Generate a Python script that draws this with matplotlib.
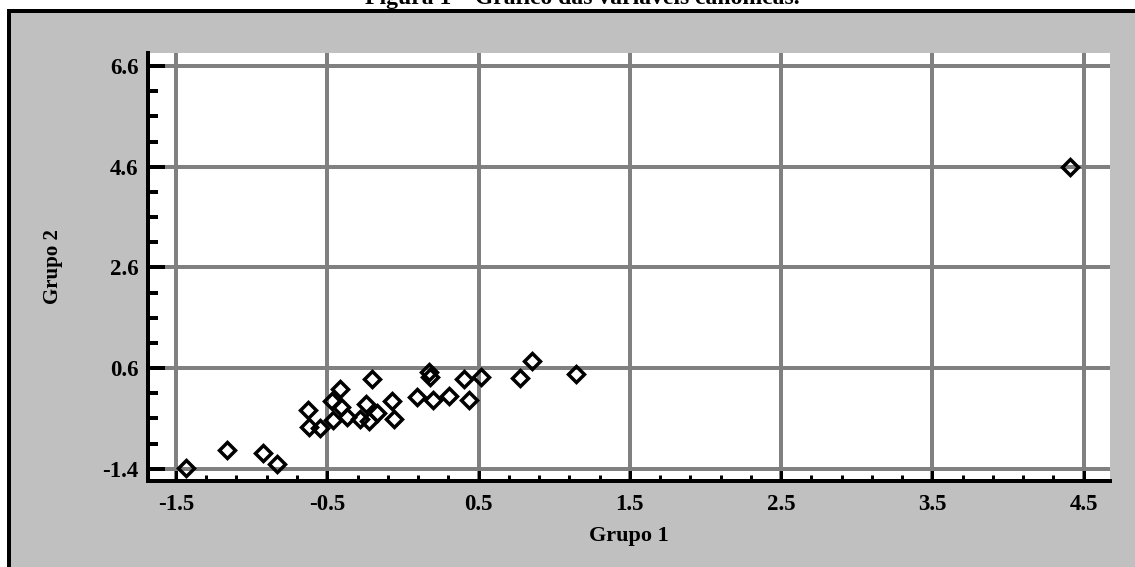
import matplotlib
matplotlib.use("Agg")
import matplotlib.pyplot as plt
from matplotlib.patches import Rectangle
from matplotlib.ticker import FixedLocator, MultipleLocator

# ---------------------------------
# Data
# ---------------------------------
grupo1 = [-1.434, -1.160, -0.924, -0.834, -0.630, -0.620, -0.547, -0.461,
          -0.468, -0.418, -0.408, -0.372, -0.282, -0.243, -0.221, -0.205,
          -0.168, -0.072, -0.062, 0.092, 0.171, 0.181, 0.199, 0.302,
          0.406, 0.434, 0.517, 0.777, 0.854, 1.141, 4.410]
grupo2 = [-1.394, -1.036, -1.082, -1.301, -0.231, -0.569, -0.599, -0.440,
          -0.052, 0.177, -0.175, -0.370, -0.414, -0.122, -0.460, 0.375,
          -0.301, -0.062, -0.410, 0.018, 0.515, 0.425, -0.042, 0.043,
          0.389, -0.042, 0.421, 0.409, 0.733, 0.489, 4.584]

x_ticks = [-1.5, -0.5, 0.5, 1.5, 2.5, 3.5, 4.5]
y_ticks = [-1.4, 0.6, 2.6, 4.6, 6.6]

title = "Figura 1 \u2013 Gráfico das variáveis canônicas."
x_label = "Grupo 1"
y_label = "Grupo 2"

W, H = 1135, 567
DPI = 100
PX = 72.0 / DPI  # one pixel in points

serif = ["Liberation Serif", "DejaVu Serif"]

# ---------------------------------
# Figure and grey panel
# ---------------------------------
fig = plt.figure(figsize=(W / DPI, H / DPI), dpi=DPI, facecolor="white")

panel = Rectangle((8.5 / W, -0.1), 1.2, (H - 10.7) / H + 0.1,
                  transform=fig.transFigure, facecolor="#c0c0c0",
                  edgecolor="black", linewidth=4 * PX, zorder=-5)
fig.patches.append(panel)

fig.text(800 / W, (H - 4) / H, title, ha="right", va="baseline",
         fontsize=17, fontweight="bold", family=serif)

ax = fig.add_axes([148 / W, (H - 480.5) / H, (1110 - 148) / W, (480.5 - 53) / H])
ax.set_facecolor("white")

# ---------------------------------
# Scatter
# ---------------------------------
ax.plot(grupo1, grupo2, linestyle="none", marker="D", markersize=8.6,
        markerfacecolor="none", markeredgecolor="black",
        markeredgewidth=2.5, zorder=3)

ax.set_xlim(-1.685, 4.674)
ax.set_ylim(-1.633, 6.858)

# ---------------------------------
# Ticks, grid, spines
# ---------------------------------
ax.xaxis.set_major_locator(FixedLocator(x_ticks))
ax.yaxis.set_major_locator(FixedLocator(y_ticks))
ax.xaxis.set_minor_locator(MultipleLocator(0.2, offset=0.1))
ax.yaxis.set_minor_locator(MultipleLocator(0.5, offset=0.1))
ax.set_xticklabels([f"{v:.1f}" for v in x_ticks])
ax.set_yticklabels([f"{v:.1f}" for v in y_ticks])

ax.grid(True, which="major", color="#808080", linewidth=4 * PX, zorder=1)
ax.set_axisbelow(True)

ax.tick_params(axis="x", which="major", direction="in", length=8 * PX * 1.39,
               width=3 * PX, color="black", pad=10, top=False)
ax.tick_params(axis="x", which="minor", direction="in", length=4 * PX * 1.39,
               width=3 * PX, color="black", top=False)
ax.tick_params(axis="y", which="major", direction="in", length=12,
               width=4 * PX, color="black", pad=7, right=False)
ax.tick_params(axis="y", which="minor", direction="in", length=7,
               width=4 * PX, color="black", right=False)

for lbl in ax.get_xticklabels() + ax.get_yticklabels():
    lbl.set_family(serif)
    lbl.set_fontweight("bold")
    lbl.set_fontsize(16.5)

for side in ["top", "right"]:
    ax.spines[side].set_visible(False)
for side in ["left", "bottom"]:
    ax.spines[side].set_linewidth(4 * PX)
    ax.spines[side].set_color("black")
    ax.spines[side].set_zorder(4)

ax.set_xlabel(x_label, fontsize=16, fontweight="bold", family=serif, labelpad=8)
ax.set_ylabel(y_label, fontsize=15, fontweight="bold", family=serif, labelpad=28)

fig.savefig("out.png", dpi=DPI, facecolor=fig.get_facecolor())
